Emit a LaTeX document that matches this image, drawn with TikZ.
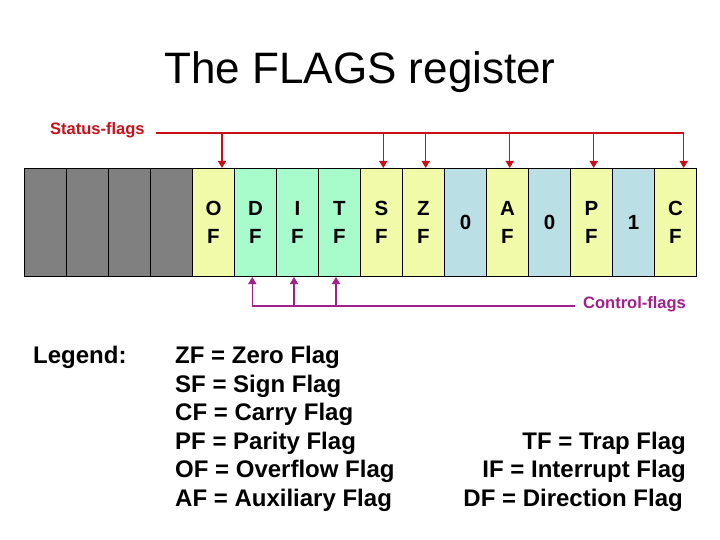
\documentclass[tikz,border=0pt]{standalone}
\usepackage{fontspec}
\setmainfont{Liberation Sans}
\usetikzlibrary{arrows.meta}
\definecolor{regyellow}{RGB}{240,250,168}
\definecolor{reggreen}{RGB}{168,252,204}
\definecolor{regblue}{RGB}{186,224,230}
\definecolor{reggray}{RGB}{128,128,128}
\definecolor{statred}{RGB}{200,16,24}
\definecolor{ctrlpurple}{RGB}{160,32,140}
\tikzset{
  cellbox/.style={draw=black, line width=1pt, minimum width=42pt, minimum height=108pt,
    inner sep=0pt, anchor=north west, align=center, font=\bfseries\fontsize{20.5}{27.5}\selectfont},
  sarrow/.style={draw=statred, line width=1.5pt, -{Triangle[length=7pt,width=8pt]}},
  carrow/.style={draw=ctrlpurple, line width=1.5pt, -{Triangle[length=7pt,width=8pt]}},
  sline/.style={draw=statred, line width=1.2pt},
  cline/.style={draw=ctrlpurple, line width=1.2pt},
  smalllab/.style={font=\bfseries\fontsize{16.5}{20}\selectfont, inner sep=0pt, anchor=base west},
  legtext/.style={font=\bfseries\fontsize{24}{28.6}\selectfont, inner sep=0pt},
}
\begin{document}
\begin{tikzpicture}[x=1pt,y=-1pt]
\useasboundingbox[fill=white] (0,0) rectangle (720,540);
% title
\node[font=\fontsize{44}{52}\selectfont, inner sep=0pt, anchor=base] (title) at (360,84) {The FLAGS register};
% register cells
\foreach \i/\col/\lab in {0/reggray/{},1/reggray/{},2/reggray/{},3/reggray/{},
  4/regyellow/{O\\F},5/reggreen/{D\\F},6/reggreen/{I\\F},7/reggreen/{T\\F},
  8/regyellow/{S\\F},9/regyellow/{Z\\F},10/regblue/{0},11/regyellow/{A\\F},
  12/regblue/{0},13/regyellow/{P\\F},14/regblue/{1},15/regyellow/{C\\F}}{
  \node[cellbox, fill=\col] (c\i) at ({24+42*\i},168) {\lab};
}
% status flags
\node[smalllab, text=statred] (stat) at (50,134.5) {Status-flags};
\coordinate (sl) at (156,133);
\coordinate (sr) at (684,133);
\draw[sline] (sl) -- (sr);
\foreach \i/\xx in {4/222,8/383.3,9/425.7,11/509.7,13/593.7,15/683.7}{
  \coordinate (s\i) at (\xx,133);
  \draw[sarrow] (s\i) -- (s\i |- c\i.north);
}
% control flags
\node[smalllab, text=ctrlpurple] (ctrl) at (583,308) {Control-flags};
\coordinate (cl) at (252.3,306);
\coordinate (cr) at (575,306);
\draw[cline] (cl) -- (cr);
\foreach \i/\xx in {5/252.3,6/294,7/336}{
  \coordinate (k\i) at (\xx,306);
  \draw[carrow] (k\i) -- (k\i |- c\i.south);
}
% legend
\node[legtext, anchor=base west] (leg) at (33,363.5) {Legend:};
\node[legtext, anchor=base west] (l1) at (175,363.5) {ZF = Zero Flag};
\node[legtext, anchor=base west] (l2) at (175,392.1) {SF = Sign Flag};
\node[legtext, anchor=base west] (l3) at (175,420.7) {CF = Carry Flag};
\node[legtext, anchor=base west] (l4) at (175,449.3) {PF = Parity Flag};
\node[legtext, anchor=base west] (l5) at (175,477.9) {OF = Overflow Flag};
\node[legtext, anchor=base west] (l6) at (175,506.5) {AF = Auxiliary Flag};
\node[legtext, anchor=base east] (r1) at (686,449.3) {TF = Trap Flag};
\node[legtext, anchor=base east] (r2) at (686,477.9) {IF = Interrupt Flag};
\node[legtext, anchor=base east] (r3) at (683,506.5) {DF = Direction Flag};
\end{tikzpicture}
\end{document}
